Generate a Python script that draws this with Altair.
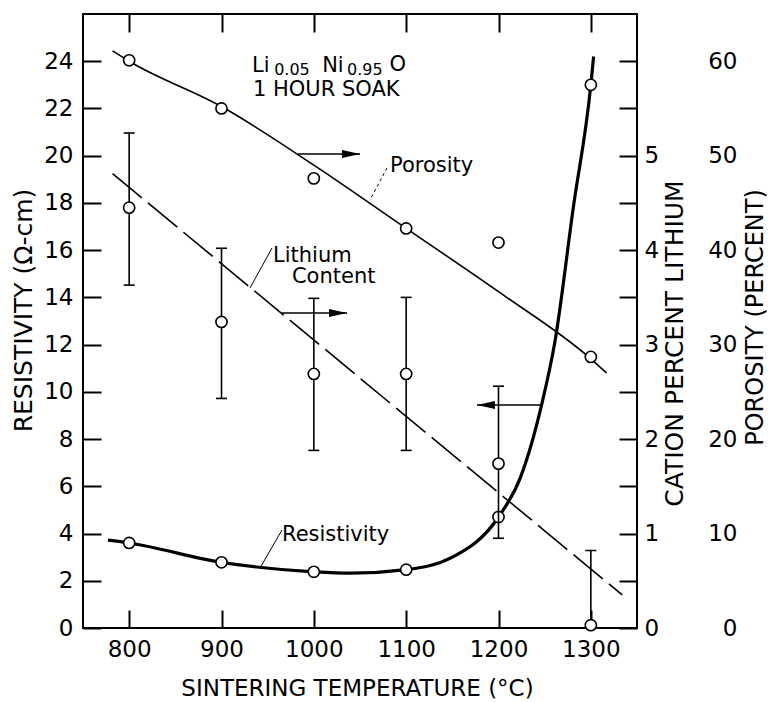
import altair as alt
import pandas as pd

FONT = "DejaVu Sans"

# ---- measurements -------------------------------------------------------
temps = [800, 900, 1000, 1100, 1200, 1300]
resistivity = [3.6, 2.78, 2.38, 2.47, 4.7, 23.0]          # ohm-cm
lithium = [4.45, 3.24, 2.69, 2.69, 1.74, 0.03]            # cation percent
lithium_hi = [5.24, 4.02, 3.49, 3.50, 2.56, 0.82]
lithium_lo = [3.63, 2.43, 1.88, 1.88, 0.95, 0.0]
porosity = [60.1, 55.0, 47.6, 42.3, 40.8, 28.7]           # percent

# hand-drawn trend curves
res_curve_t = [777, 800, 900, 1000, 1040, 1100, 1150, 1200, 1224, 1247, 1261, 1281, 1300, 1303]
res_curve_v = [3.72, 3.6, 2.78, 2.38, 2.32, 2.47, 3.0, 4.7, 6.4, 9.5, 12.1, 17.8, 23.0, 24.2]
por_fit_t = [782, 800, 900, 1000, 1100, 1200, 1300, 1317]
por_fit_v = [61.1, 60.0, 55.2, 49.0, 42.3, 35.6, 28.5, 27.0]
lith_fit_t = [782, 1334]
lith_fit_v = [4.81, 0.35]

# axis tick positions
x_ticks = [800, 900, 1000, 1100, 1200, 1300]
res_ticks = list(range(0, 25, 2))
lith_ticks = [i * 0.5 for i in range(13)]
por_labels = [0, 10, 20, 30, 40, 50, 60]

# annotations (temperature, resistivity coordinates)
formula_text = ["Li", "0.05", "Ni", "0.95", "O"]
formula_t = [933.0, 957.0, 1009.0, 1036.0, 1082.0]
formula_r = [23.54, 23.41, 23.54, 23.41, 23.59]
formula_size = [21, 16, 21, 16, 21]

label_text = ["1 HOUR SOAK", "Porosity", "Lithium", "Content", "Resistivity"]
label_t = [934.1, 1082.5, 955.8, 976.3, 965.5]
label_r = [22.53, 19.31, 15.50, 14.61, 3.68]

lead_t1 = [954.7, 965.5]
lead_r1 = [16.09, 4.15]
lead_t2 = [930.9, 941.7]
lead_r2 = [14.40, 2.54]
por_lead = {"t1": [1079.2], "r1": [19.48], "t2": [1060.8], "r2": [18.12]}

arrow_t0 = [982.8, 965.5, 1245.0]
arrow_t1 = [1050.0, 1035.9, 1176.7]
arrow_r = [20.07, 13.34, 9.44]
arrow_dir = ["right", "right", "left"]

W, H = 554, 614
INWARD = alt.ExprRef(expr="-18")   # tick marks point into the plot

# ---- scales and axes ----------------------------------------------------
x_scale = alt.Scale(domain=[750, 1350], nice=False, zero=False)
res_scale = alt.Scale(domain=[0, 26], nice=False)
lith_scale = alt.Scale(domain=[0, 6.5], nice=False)
por_scale = alt.Scale(domain=[0, 65], nice=False)

common = dict(domain=False, grid=False, labelFont=FONT, labelFontSize=23,
              labelColor="black", titleFont=FONT, titleFontWeight="normal",
              titleColor="black", titleAlign="center", titleBaseline="middle",
              tickColor="black", tickWidth=2, tickOpacity=1)

x_axis = alt.Axis(orient="bottom", values=x_ticks, format="d", ticks=True, tickSize=INWARD,
                  labelPadding=28, title="SINTERING TEMPERATURE (°C)", titleFontSize=23,
                  titleX=274, titleY=60, **common)
x_top_axis = alt.Axis(orient="top", values=x_ticks, ticks=True, tickSize=INWARD,
                      labels=False, title=None, **common)
res_axis = alt.Axis(orient="left", values=res_ticks, ticks=True, tickSize=INWARD,
                    labelPadding=28, title="RESISTIVITY (Ω-cm)", titleFontSize=25,
                    titleAngle=270, titleX=-60, titleY=296, **common)
lith_axis = alt.Axis(orient="right", values=lith_ticks, ticks=True, tickSize=INWARD,
                     labelExpr="datum.value % 1 === 0 && datum.value <= 5 ? format(datum.value, 'd') : ''",
                     labelPadding=25, labelAlign="left",
                     title="CATION PERCENT LITHIUM", titleFontSize=25, titleAngle=270,
                     titleX=37, titleY=329, **common)
por_axis = alt.Axis(orient="right", values=por_labels, ticks=False, labelPadding=100,
                    labelAlign="right", title="POROSITY (PERCENT)", titleFontSize=24,
                    titleAngle=270, titleX=118, titleY=303, **common)


def X(field):
    return alt.X(f"{field}:Q", scale=x_scale, axis=x_axis)


def XT(field):
    return alt.X(f"{field}:Q", scale=x_scale, axis=x_top_axis)


def XN(field):
    return alt.X(f"{field}:Q", scale=x_scale, axis=None)


def RY(field):
    return alt.Y(f"{field}:Q", scale=res_scale, axis=res_axis)


def LY(field):
    return alt.Y(f"{field}:Q", scale=lith_scale, axis=lith_axis)


def PY(field):
    return alt.Y(f"{field}:Q", scale=por_scale, axis=por_axis)


pts = pd.DataFrame({"t": temps, "res": resistivity, "lith": lithium,
                    "lo": lithium_lo, "hi": lithium_hi, "por": porosity})
res_curve = pd.DataFrame({"t": res_curve_t, "res": res_curve_v})
por_fit = pd.DataFrame({"t": por_fit_t, "por": por_fit_v})
lith_fit = pd.DataFrame({"t": lith_fit_t, "lith": lith_fit_v})

circle = dict(shape="circle", size=125, filled=True, fill="white", stroke="black",
              strokeWidth=1.6, opacity=1)

# ---- resistivity group (left axis, bottom axis) --------------------------
res_line = alt.Chart(res_curve).mark_line(color="black", strokeWidth=3.2,
                                          interpolate="monotone").encode(x=X("t"), y=RY("res"))
res_pts = alt.Chart(pts).mark_point(**circle).encode(x=X("t"), y=RY("res"))

formula = alt.Chart(pd.DataFrame({"text": formula_text, "t": formula_t, "res": formula_r,
                                  "size": formula_size})).mark_text(
    font=FONT, align="left", baseline="alphabetic", color="black").encode(
    x=X("t"), y=RY("res"), text="text:N", size=alt.Size("size:Q", scale=None, legend=None))

labels = alt.Chart(pd.DataFrame({"text": label_text, "t": label_t, "res": label_r})).mark_text(
    font=FONT, fontSize=21, align="left", baseline="alphabetic", color="black").encode(
    x=X("t"), y=RY("res"), text="text:N")

leaders = alt.Chart(pd.DataFrame({"t1": lead_t1, "r1": lead_r1, "t2": lead_t2,
                                  "r2": lead_r2})).mark_rule(color="black", strokeWidth=1).encode(
    x=X("t1"), x2="t2", y=RY("r1"), y2="r2")
por_leader = alt.Chart(pd.DataFrame(por_lead)).mark_rule(
    color="black", strokeWidth=1, strokeDash=[3, 3]).encode(
    x=X("t1"), x2="t2", y=RY("r1"), y2="r2")

arrows = pd.DataFrame({"t0": arrow_t0, "t1": arrow_t1, "res": arrow_r, "dir": arrow_dir})
shafts = alt.Chart(arrows).mark_rule(color="black", strokeWidth=1.6).encode(
    x=X("t0"), x2="t1", y=RY("res"))
head_right = alt.Chart(arrows).transform_filter(alt.datum.dir == "right").mark_point(
    shape="M0,0L-2,-0.45L-2,0.45Z", size=324, filled=True, color="black", opacity=1,
    strokeWidth=0).encode(x=X("t1"), y=RY("res"))
head_left = alt.Chart(arrows).transform_filter(alt.datum.dir == "left").mark_point(
    shape="M0,0L2,-0.45L2,0.45Z", size=324, filled=True, color="black", opacity=1,
    strokeWidth=0).encode(x=X("t1"), y=RY("res"))

res_group = alt.layer(res_line, leaders, por_leader, shafts, head_right, head_left,
                      res_pts, formula, labels)

# ---- lithium group (inner right axis, top axis) --------------------------
lith_line = alt.Chart(lith_fit).mark_line(color="black", strokeWidth=1.6,
                                          strokeDash=[38, 8]).encode(x=XT("t"), y=LY("lith"))
lith_bars = alt.Chart(pts).mark_rule(color="black", strokeWidth=1.6).encode(
    x=XT("t"), y=LY("lo"), y2="hi")
lith_cap_hi = alt.Chart(pts).mark_tick(orient="horizontal", size=11, thickness=1.6,
                                       color="black", opacity=1).encode(x=XT("t"), y=LY("hi"))
lith_cap_lo = alt.Chart(pts[pts["lo"] > 0]).mark_tick(orient="horizontal", size=11,
                                                      thickness=1.6, color="black",
                                                      opacity=1).encode(x=XT("t"), y=LY("lo"))
lith_pts = alt.Chart(pts).mark_point(**circle).encode(x=XT("t"), y=LY("lith"))

lith_group = alt.layer(lith_line, lith_bars, lith_cap_hi, lith_cap_lo, lith_pts)

# ---- porosity group (outer right axis) -----------------------------------
por_line = alt.Chart(por_fit).mark_line(color="black", strokeWidth=1.6,
                                        interpolate="monotone").encode(x=XN("t"), y=PY("por"))
por_pts = alt.Chart(pts).mark_point(**circle).encode(x=XN("t"), y=PY("por"))
por_group = alt.layer(por_line, por_pts)

chart = alt.layer(res_group, lith_group, por_group).resolve_scale(
    x="independent", y="independent"
).properties(
    width=W, height=H,
    autosize=alt.AutoSizeParams(type="none"),
    padding={"left": 83, "top": 14, "right": 769 - 83 - W, "bottom": 702 - 14 - H},
    background="white",
).configure_view(stroke="black", strokeWidth=2)

chart.save("out.html", embed_options={"renderer": "svg", "actions": False})
